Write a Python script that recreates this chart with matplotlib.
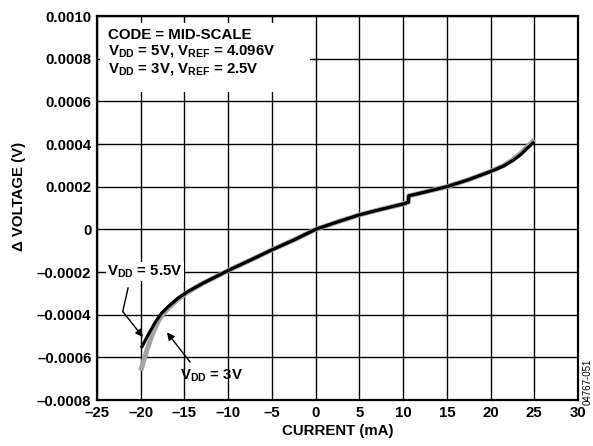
import numpy as np
import matplotlib
matplotlib.use("Agg")
import matplotlib.pyplot as plt
from matplotlib.patches import Rectangle

plt.rcParams['font.family'] = ['Liberation Sans', 'DejaVu Sans']
plt.rcParams['font.weight'] = 'bold'
plt.rcParams['mathtext.fontset'] = 'custom'
plt.rcParams['mathtext.rm'] = 'Liberation Sans:bold'
plt.rcParams['mathtext.default'] = 'rm'

# VDD = 5.5V (black), delta voltage in units of 1e-4 V
cur_55 = [-20, -19.84, -19.15, -18.39, -17.62, -16.86, -15.72, -14.58, -12.86, -10, -7.5, -5, -2.5, 0,
          2.5, 5, 7.5, 10, 10.6, 10.65, 12.5, 15, 17.5, 20, 21.5, 22.6, 23.5, 24.14, 24.6, 25]
dv_55 = [-5.55, -5.49, -4.94, -4.39, -3.93, -3.62, -3.22, -2.91, -2.52, -1.93, -1.45, -0.96, -0.5, 0,
         0.35, 0.68, 0.94, 1.19, 1.27, 1.57, 1.75, 2.0, 2.33, 2.71, 2.97, 3.24, 3.52, 3.78, 3.95, 4.1]

# VDD = 3V (gray)
cur_3 = [-20, -19.34, -18.76, -18.19, -17.62, -16.86, -15.72, -14.58, -12.86, -10, -7.5, -5, -2.5, 0,
         2.5, 5, 7.5, 10, 10.6, 10.65, 12.5, 15, 17.5, 20, 21.5, 22.6, 23.5, 24.14, 24.6, 25]
dv_3 = [-6.62, -5.72, -5.02, -4.47, -4.04, -3.7, -3.26, -2.93, -2.52, -1.93, -1.45, -0.96, -0.5, 0,
        0.35, 0.68, 0.94, 1.19, 1.27, 1.57, 1.75, 2.0, 2.33, 2.72, 2.99, 3.28, 3.58, 3.85, 4.03, 4.2]

xticks = [-25, -20, -15, -10, -5, 0, 5, 10, 15, 20, 25, 30]
xlabels = ['–25', '–20', '–15', '–10', '–5', '0', '5', '10', '15', '20', '25', '30']
yticks = [-0.0008, -0.0006, -0.0004, -0.0002, 0, 0.0002, 0.0004, 0.0006, 0.0008, 0.0010]
ylabels = ['–0.0008', '–0.0006', '–0.0004', '–0.0002', '0', '0.0002', '0.0004',
           '0.0006', '0.0008', '0.0010']

fs = 10.8

fig = plt.figure(figsize=(5.93, 4.46), dpi=100)
ax = fig.add_axes([0.1636, 0.1031, 0.8111, 0.861])

ax.plot(cur_3, np.array(dv_3) * 1e-4, color='#a4a4a4', lw=3.6, solid_capstyle='butt',
        solid_joinstyle='round', zorder=3)
ax.plot(cur_55, np.array(dv_55) * 1e-4, color='black', lw=2.3, solid_capstyle='butt',
        solid_joinstyle='round', zorder=4)

ax.set_xlim(-25, 30)
ax.set_ylim(-0.0008, 0.0010)
ax.set_xticks(xticks)
ax.set_xticklabels(xlabels)
ax.set_yticks(yticks)
ax.set_yticklabels(ylabels)
ax.tick_params(length=0, labelsize=fs, pad=4)
ax.grid(True, color='black', lw=1.0)
for s in ax.spines.values():
    s.set_linewidth(1.6)
    s.set_zorder(7)

ax.set_xlabel('CURRENT (mA)', fontsize=fs, fontweight='bold', labelpad=3)
ax.set_ylabel('Δ VOLTAGE (V)', fontsize=fs, fontweight='bold', labelpad=8)
ax.yaxis.label.set_y(0.53)

# white box behind the condition text
ax.add_patch(Rectangle((0.006, 0.802), 0.437, 0.18, transform=ax.transAxes,
                       facecolor='white', edgecolor='none', zorder=5))
ax.text(-23.75, 0.000945,
        'CODE = MID-SCALE\nV$_{DD}$ = 5V, V$_{REF}$ = 4.096V\nV$_{DD}$ = 3V, V$_{REF}$ = 2.5V',
        fontsize=fs, fontweight='bold', va='top', ha='left', linespacing=1.15, zorder=6)

ax.text(-19.5, -0.000199, 'V$_{DD}$ = 5.5V', fontsize=fs, ha='center', va='center',
        bbox=dict(facecolor='white', edgecolor='none', pad=1), zorder=5)
ax.plot([-21.45, -22.06], [-0.000275, -0.000385], color='black', lw=1.0, zorder=6)
ax.annotate('', xy=(-19.75, -0.000505), xytext=(-22.06, -0.000385),
            arrowprops=dict(arrowstyle='-|>', color='black', lw=1.0, shrinkA=0, shrinkB=0,
                            mutation_scale=11), zorder=6)

ax.text(-11.96, -0.000688, 'V$_{DD}$ = 3V', fontsize=fs, ha='center', va='center', zorder=5)
ax.annotate('', xy=(-17.0, -0.000483), xytext=(-14.36, -0.000622),
            arrowprops=dict(arrowstyle='-|>', color='black', lw=1.0, shrinkA=0, shrinkB=0,
                            mutation_scale=11), zorder=6)

fig.text(0.991, 0.143, '04767-051', rotation=90, fontsize=7, fontweight='normal',
         ha='center', va='center')

fig.savefig('out.png', dpi=100)
